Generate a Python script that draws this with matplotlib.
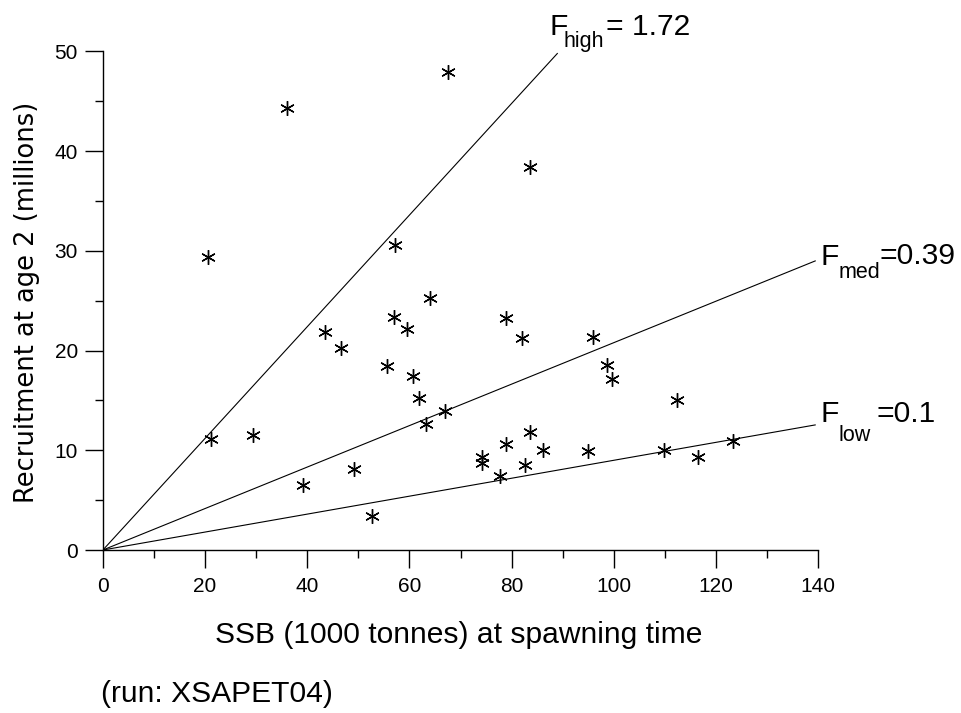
import matplotlib
matplotlib.use('Agg')
import matplotlib.pyplot as plt
from matplotlib.ticker import MultipleLocator

# ---- data ----
ssb = [20.5, 21.1, 29.4, 36.0, 39.2, 43.5, 46.6, 49.1, 52.6, 55.5,
       57.0, 57.2, 59.5, 60.7, 61.8, 63.2, 64.0, 66.9, 67.5, 74.1,
       74.1, 77.8, 78.9, 78.8, 82.1, 82.6, 83.6, 83.6, 86.1, 95.0,
       95.9, 98.6, 99.6, 109.8, 112.4, 116.5, 123.4]
recruits = [29.4, 11.1, 11.5, 44.3, 6.5, 21.9, 20.3, 8.1, 3.4, 18.5,
            23.4, 30.6, 22.2, 17.5, 15.2, 12.6, 25.3, 13.9, 47.9, 9.3,
            8.7, 7.4, 10.6, 23.3, 21.3, 8.5, 11.8, 38.4, 10.0, 9.9,
            21.4, 18.6, 17.2, 10.0, 15.0, 9.3, 10.9]

f_names = ['high', 'med', 'low']
f_values = ['1.72', '0.39', '0.1']
f_slopes = [0.56, 0.208, 0.09]      # recruits per unit SSB
f_xend = [89.0, 139.5, 139.5]

x_ticks = [0, 20, 40, 60, 80, 100, 120, 140]
y_ticks = [0, 10, 20, 30, 40, 50]

xlabel = 'SSB (1000 tonnes) at spawning time'
ylabel = 'Recruitment at age 2 (millions)'
run_label = '(run: XSAPET04)'

# ---- figure ----
plt.rcParams['font.family'] = ['Liberation Sans', 'DejaVu Sans']
W, H = 962, 713
fig = plt.figure(figsize=(W / 100, H / 100), dpi=100)
fig.patch.set_facecolor('white')


def px(x, y):
    return x / W, 1 - y / H


ax = fig.add_axes([102.9 / W, 1 - 550 / H, (818.3 - 102.9) / W, (550 - 51.5) / H])

for s, xe in zip(f_slopes, f_xend):
    ax.plot([0, xe], [0, s * xe], color='black', lw=0.8, solid_capstyle='butt')

ax.plot(ssb, recruits, ls='none', marker=(6, 2, 0), ms=10.5, mew=1.0,
        color='black', clip_on=False)

ax.set_xlim(0, 140)
ax.set_ylim(0, 50)
ax.set_xticks(x_ticks)
ax.set_yticks(y_ticks)
ax.xaxis.set_minor_locator(MultipleLocator(10))
ax.yaxis.set_minor_locator(MultipleLocator(5))
for side in ('top', 'right'):
    ax.spines[side].set_visible(False)
for side in ('left', 'bottom'):
    ax.spines[side].set_linewidth(1.0)

ax.tick_params(which='major', length=13, width=1.0, direction='out', labelsize=15)
ax.tick_params(which='minor', length=5.5, width=1.0, direction='out')
ax.tick_params(axis='x', which='major', pad=6.5)
ax.tick_params(axis='y', which='major', pad=5)

# axis labels
fig.text(*px(459, 643.3), xlabel, fontsize=21.6, ha='center', va='baseline')
fig.text(*px(101, 701.7), run_label, fontsize=21.6, ha='left', va='baseline')
fig.text(*px(27, 302.5), ylabel, fontsize=18.5, rotation=90, ha='center',
         va='center', family=['DejaVu Sans'])

# F labels: (F-left, F-baseline, sub-left, sub-baseline, value-x, value-baseline, value-ha, value-text)
f_pos = {
    'high': (549.5, 35, 563.5, 47, 606, 35, 'left', '= '),
    'med': (821, 265, 839, 278, 956, 264, 'right', '='),
    'low': (821, 421.7, 839, 441, 936, 421.5, 'right', '='),
}
for name, val in zip(f_names, f_values):
    fx, fy, sx, sy, vx, vy, vha, eq = f_pos[name]
    fig.text(*px(fx, fy), 'F', fontsize=21.6, ha='left', va='baseline')
    fig.text(*px(sx, sy), name, fontsize=15.5, ha='left', va='baseline')
    fig.text(*px(vx, vy), eq + val, fontsize=21.6, ha=vha, va='baseline')

fig.savefig('out.png', dpi=100)
